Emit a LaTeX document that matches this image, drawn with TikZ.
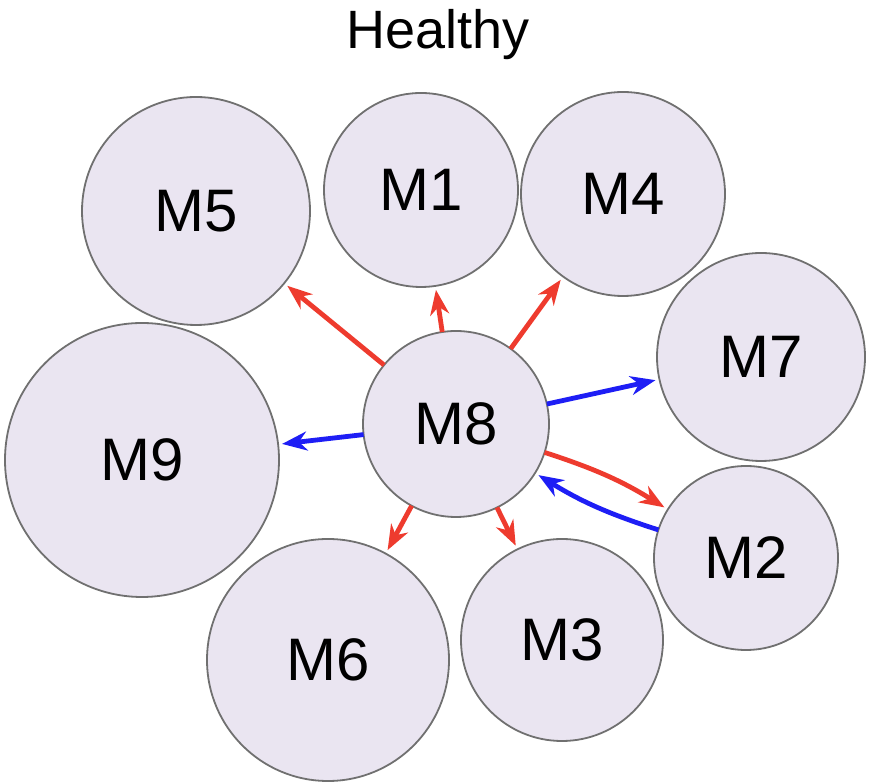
\documentclass[tikz,border=0pt]{standalone}
\usepackage{fontspec}
\setmainfont{Liberation Sans}
\usetikzlibrary{arrows.meta}
\definecolor{nodefill}{HTML}{EAE5F1}
\definecolor{nodeline}{HTML}{707070}
\definecolor{posred}{HTML}{EE3B2E}
\definecolor{negblue}{HTML}{1E1EF5}
\begin{document}
\begin{tikzpicture}[x=1pt,y=1pt,
  module/.style={circle, draw=nodeline, line width=1.8pt, fill=nodefill,
    inner sep=0pt, outer sep=0pt, font=\fontsize{60}{72}\selectfont},
  link/.style={line width=4.8pt, -{Stealth[length=25pt,width=19pt,inset=8pt]},
    shorten >=4pt},
  up/.style={link, posred},
  down/.style={link, negblue}]
\useasboundingbox (0,0) rectangle (869,783);
\node[font=\fontsize{54}{64}\selectfont] (title) at (438,748) {Healthy};
\node[module, minimum size=228pt] (M5) at (196,572) {M5};
\node[module, minimum size=194pt] (M1) at (421,593) {M1};
\node[module, minimum size=204pt] (M4) at (623,589) {M4};
\node[module, minimum size=208pt] (M7) at (761,426) {M7};
\node[module, minimum size=186pt] (M8) at (456,359) {M8};
\node[module, minimum size=274pt] (M9) at (142,323) {M9};
\node[module, minimum size=184pt] (M2) at (746,225) {M2};
\node[module, minimum size=202pt] (M3) at (562,143) {M3};
\node[module, minimum size=242pt] (M6) at (328,123) {M6};
\draw[up] (M8) -- (M5);
\draw[up] (M8) -- (M1);
\draw[up] (M8) -- (M4);
\draw[down] (M8) -- (M7);
\draw[down] (M8) -- (M9);
\draw[up] (M8) -- (M6);
\draw[up] (M8) -- (M3);
\draw[up] (M8) to[bend left=7] (M2);
\draw[down] (M2) to[bend left=7] (M8);
\end{tikzpicture}
\end{document}
